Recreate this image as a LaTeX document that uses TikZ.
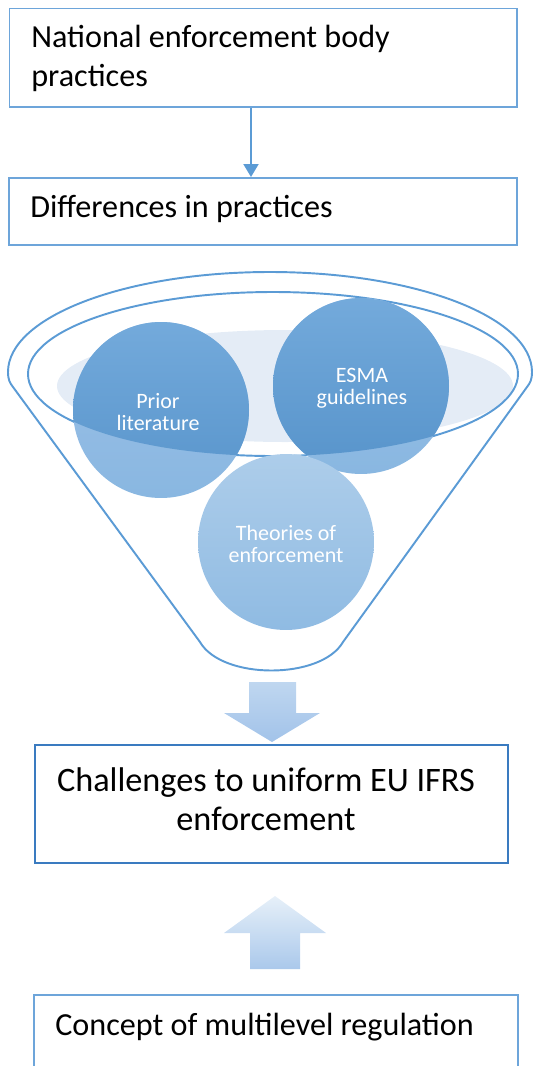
\documentclass[tikz,border=0pt]{standalone}
\usepackage{fontspec}
\setmainfont{Carlito}
\usetikzlibrary{arrows.meta}

\definecolor{lineblue}{HTML}{5B9BD5}
\definecolor{boxblue}{HTML}{6DA5DA}
\definecolor{darkbox}{HTML}{3A7BC0}
\definecolor{rimfill}{HTML}{E4ECF6}

\begin{document}
\begin{tikzpicture}[
        x=0.02cm, y=-0.02cm,
        panel/.style={
            draw=boxblue,
            line width=1.1pt,
            rectangle,
            anchor=north west,
            inner sep=0pt
        },
        caption/.style={
            anchor=base west,
            inner sep=0pt,
            align=left,
            font=\fontsize{18.3}{22}\selectfont
        },
        disc/.style={
            circle,
            minimum size=3.52cm,
            inner sep=0pt
        },
        disctext/.style={
            text=white,
            align=center,
            font=\fontsize{12.5}{12.5}\selectfont
        },
        link/.style={
            -{Triangle[length=0.26cm,width=0.3cm]},
            draw=lineblue,
            line width=1.1pt
        },
        funnel/.style={
            draw=lineblue,
            line width=1.1pt
        }
    ]
    \useasboundingbox (0,0) rectangle (533,1066);

    % boxes at the top
    \node[panel, minimum width=10.15cm, minimum height=1.97cm] (national) at (8.5,7.5) {};
    \node[caption] (nationaltxt) at (31,86) {National enforcement body\\practices};
    \node[panel, minimum width=10.16cm, minimum height=1.34cm] (differences) at (8,177) {};
    \node[caption] (differencestxt) at (30,217) {Differences in practices};

    \coordinate (split) at (251,0);
    \draw[link] (national.south -| split) -- (differences.north -| split);

    % funnel
    \draw[funnel] (532,372) arc[start angle=0, end angle=-180, x radius=262, y radius=100]
        .. controls (8,380) and (10,383) .. (13,387) -- (200,642)
        .. controls (222,680) and (321,680) .. (343,642) -- (527,387)
        .. controls (530,383) and (532,380) .. (532,372);
    \fill[rimfill] (285,386) ellipse [x radius=228, y radius=56];
    \draw[funnel] (273,374) ellipse [x radius=245, y radius=82];

    \node[disc, top color=blue!5!lineblue!58, bottom color=lineblue!72] (prior) at (161,410) {};
    \node[disc, top color=blue!5!lineblue!58, bottom color=lineblue!72] (esma) at (361,386) {};
    \node[disc, top color=lineblue!50, bottom color=lineblue!68] (theories) at (286,542) {};

    \begin{scope}
        \clip (273,374) ellipse [x radius=245, y radius=82];
        \shade[top color=lineblue!85, bottom color=lineblue!95!black] (prior.center) circle (88);
        \shade[top color=lineblue!85, bottom color=lineblue!95!black] (esma.center) circle (88);
    \end{scope}

    \node[disctext] (priortxt) at (158,412) {Prior\\literature};
    \node[disctext] (esmatxt) at (362,388) {ESMA\\guidelines};
    \node[disctext] (theoriestxt) at (286,544) {Theories of\\enforcement};

    % block arrows
    \shade[top color=blue!4!lineblue!38, bottom color=blue!6!lineblue!55]
        (249,682) -- (296,682) -- (296,713) -- (320,713) -- (272,742)
        -- (224,713) -- (249,713) -- cycle;
    \shade[top color=lineblue!15, bottom color=blue!6!lineblue!50]
        (275,896) -- (326,933) -- (300,933) -- (300,969) -- (250,969)
        -- (250,933) -- (224,933) -- cycle;

    % boxes at the bottom
    \node[panel, draw=darkbox, minimum width=9.46cm, minimum height=2.36cm] (challenges) at (34,744) {};
    \node[caption, anchor=base, align=center, font=\fontsize{19.5}{22}\selectfont] (challengestxt) at (266,830) {Challenges to uniform EU IFRS\\enforcement};
    \node[panel, minimum width=9.68cm, minimum height=1.46cm] (concept) at (33,994) {};
    \node[caption] (concepttxt) at (55,1035) {Concept of multilevel regulation};

\end{tikzpicture}
\end{document}
